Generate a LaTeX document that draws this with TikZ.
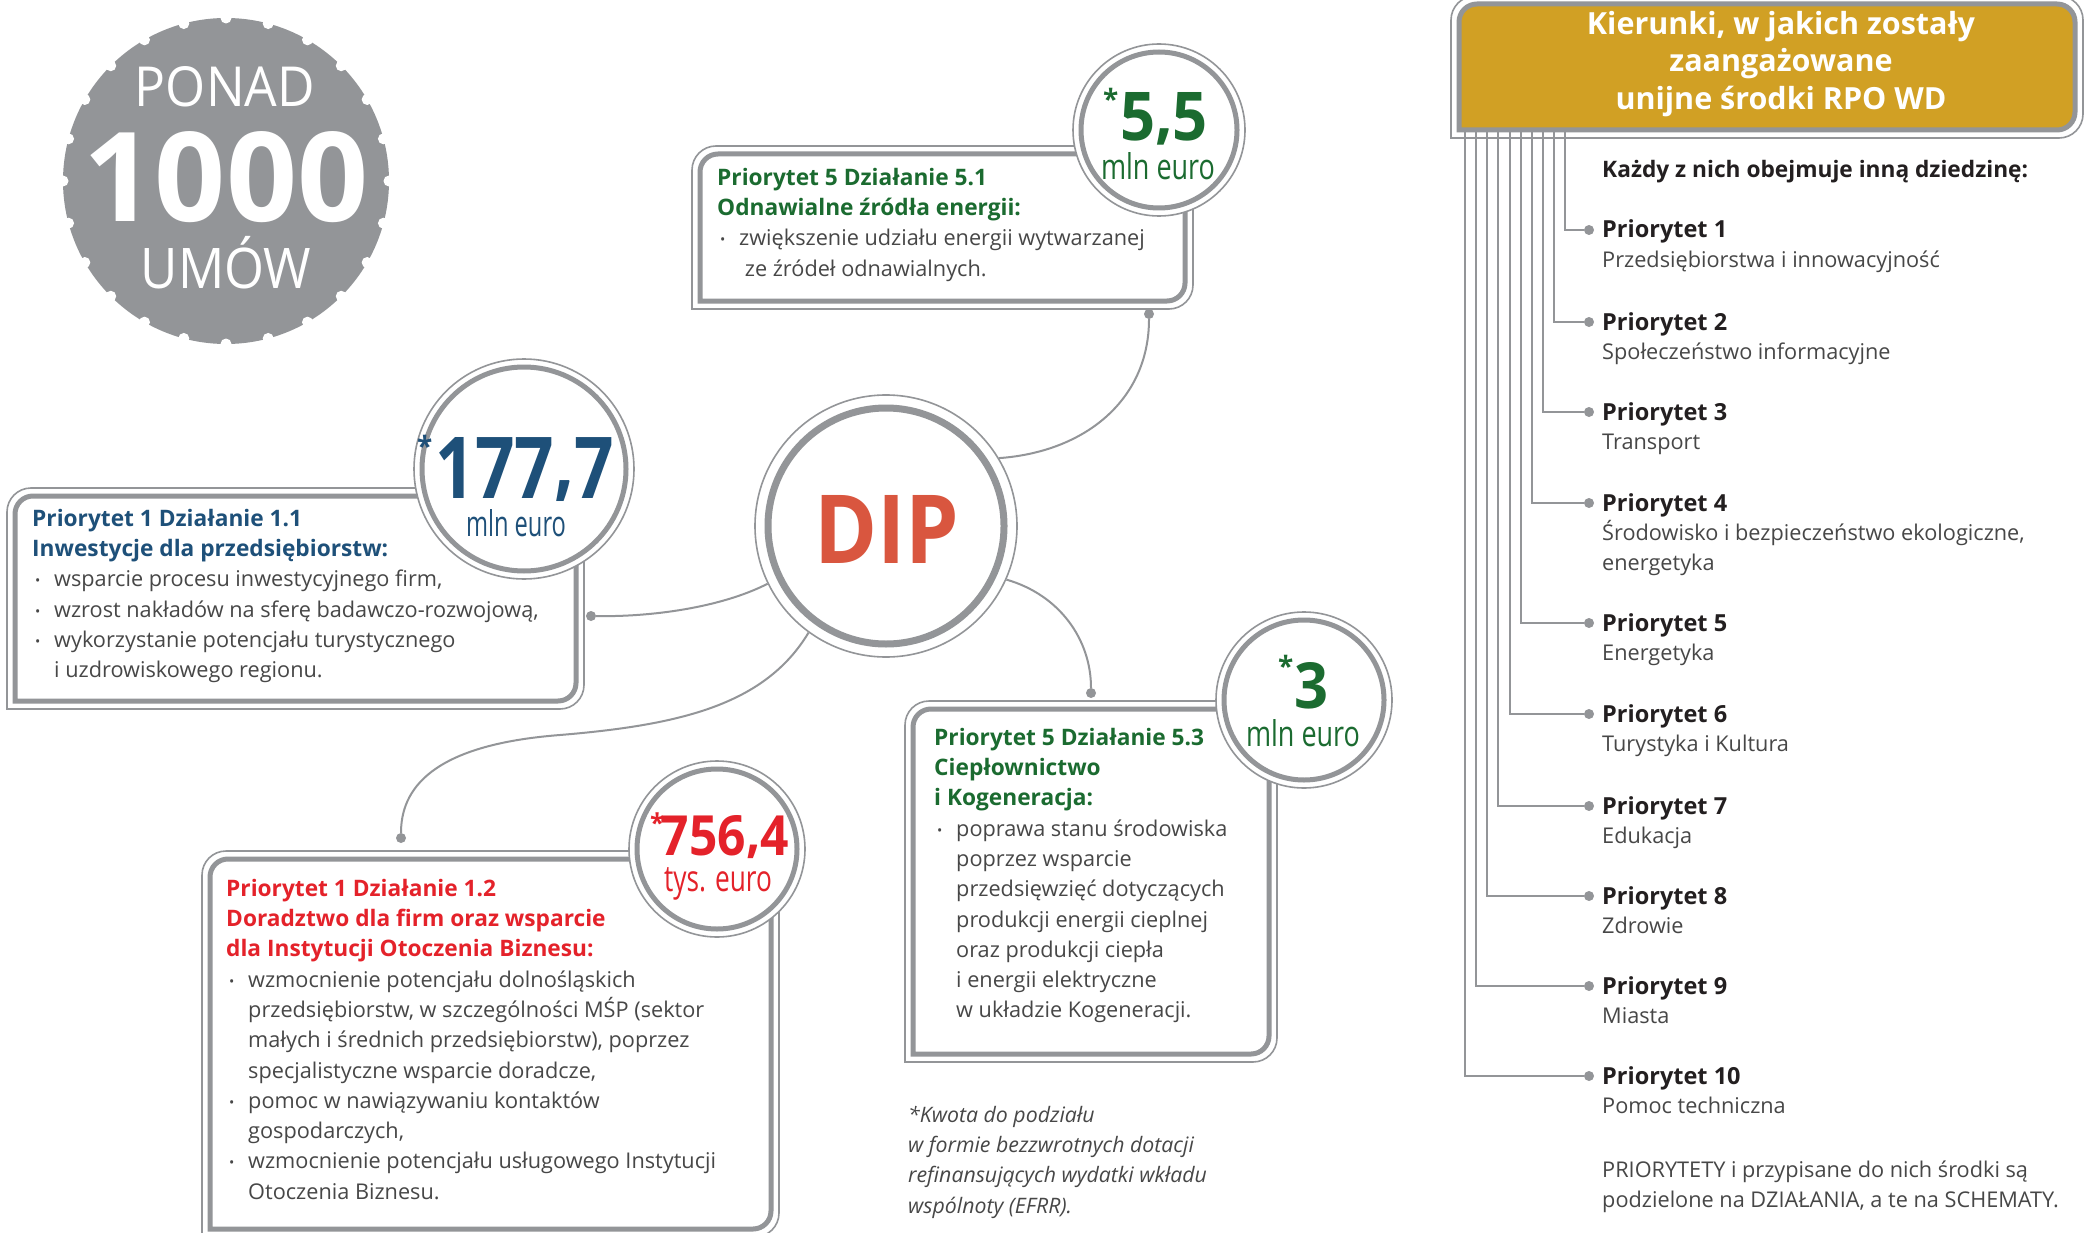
\documentclass[tikz,border=0pt]{standalone}
\usepackage{fontspec}
\setmainfont{Open Sans}
\usepackage{graphicx}
\definecolor{lgray}{HTML}{939598}
\definecolor{pgreen}{HTML}{1B6B30}
\definecolor{pblue}{HTML}{1E5079}
\definecolor{pred}{HTML}{E4222A}
\definecolor{dipred}{HTML}{D9563F}
\definecolor{gold}{HTML}{D1A024}
\definecolor{txt}{HTML}{474747}
\definecolor{blk}{HTML}{231F20}
\newcommand\hdf{\fontsize{22.7}{30.3}\selectfont\bfseries}
\newcommand\pdf{\fontsize{23.5}{30.3}\selectfont\bfseries}
\newcommand\bdf{\fontsize{21.7}{30.3}\selectfont}
\newcommand\bul{\hspace*{3pt}\makebox[19pt][l]{\raisebox{1pt}{\fontsize{14}{14}\selectfont\textbullet}}}
\newcommand\ind{\hspace*{22pt}}
\newcommand\fl{\rule{0pt}{20pt}}
\newcommand\nodepth[1]{\raisebox{0pt}[\height][0pt]{#1}}
\newcommand\cm[1]{\raisebox{#1}{,}}
\newcommand\dframe[5][]{%
  \draw[lgray,line width=1.6pt] (#2,#5) -- (#2,#3+24) arc[start angle=180,end angle=270,radius=24] -- (#4-24,#3) arc[start angle=270,end angle=360,radius=24] -- (#4,#5-24) arc[start angle=0,end angle=90,radius=24] -- cycle;
  \draw[lgray,line width=5pt,#1] (#2+8,#5-8) -- (#2+8,#3+26) arc[start angle=180,end angle=270,radius=18] -- (#4-26,#3+8) arc[start angle=270,end angle=360,radius=18] -- (#4-8,#5-26) arc[start angle=0,end angle=90,radius=18] -- cycle;
}
\begin{document}
\begin{tikzpicture}[x=1pt,y=-1pt,
  conn/.style={lgray,line width=2pt},
  vline/.style={lgray,line width=2pt},
  ring/.style={circle,draw=lgray,line width=1.6pt,fill=white,inner sep=0},
  boxtxt/.style={anchor=north west,align=left,inner sep=0,font=\bdf,text=txt},
  dotc/.style={circle,fill=lgray,inner sep=0,minimum size=10pt},
  num/.style={anchor=base,inner sep=0},
]
\useasboundingbox[fill=white] (0,0) rectangle (2087,1233);

% stamp
\node[circle,fill=lgray,minimum size=326pt,inner sep=0] (stamp) at (226,181) {};
\foreach \a in {0,15,...,345} \fill[white,shift={(226,181)}] (\a:163) circle[radius=5.5];
\node[num,text=white] (ponad) at (225,107) {\resizebox{180pt}{40pt}{PONAD}};
\node[num,text=white] (n1000) at (226,222) {\resizebox{284pt}{90pt}{\bfseries 1000}};
\node[num,text=white] (umow) at (226,288) {\raisebox{0pt}[40pt][0pt]{\fontsize{56}{56}\selectfont\scalebox{0.916}[1]{UMÓW}}};

% frames
\dframe{692}{146}{1193}{309}
\dframe{7}{488}{584}{709}
\dframe{202}{851}{779}{1237}
\dframe{905}{701}{1277}{1062}
\dframe[fill=gold]{1451}{-4}{2083}{138}

% value circles
\node[ring,minimum size=172pt] (c55) at (1159,130) {};
\draw[lgray,line width=5pt] (c55.center) circle[radius=78];
\node[ring,minimum size=220pt] (c177) at (524,469) {};
\draw[lgray,line width=5pt] (c177.center) circle[radius=102];
\node[ring,minimum size=176pt] (c756) at (717,849) {};
\draw[lgray,line width=5pt] (c756.center) circle[radius=80];
\node[ring,minimum size=176pt] (c3) at (1304,700) {};
\draw[lgray,line width=5pt] (c3.center) circle[radius=80];

% DIP
\node[ring,minimum size=262pt] (dip) at (886,526) {};
\draw[lgray,line width=7pt] (dip.center) circle[radius=118];
\node[num,text=dipred] (diptxt) at (887,563) {\resizebox{145pt}{68pt}{\bfseries DIP}};

% dots and connectors
\node[dotc] (d51) at (1149,314) {};
\node[dotc] (d11) at (591,616) {};
\node[dotc] (d12) at (401,838) {};
\node[dotc] (d53) at (1091,693) {};
\draw[conn] (dip.31) .. controls (1085,452) and (1149,400) .. (d51);
\draw[conn] (dip.206) .. controls (720,608) and (650,617) .. (d11);
\draw[conn] (dip.234) .. controls (765,705) and (680,725) .. (560,735) .. controls (430,745) and (401,790) .. (d12);
\draw[conn] (dip.336) .. controls (1060,595) and (1091,640) .. (d53);

% circle values
\node[num,text=pgreen] (v55) at (1164,141) {\nodepth{\resizebox{88pt}{48pt}{\bfseries 5\cm{0.6pt}5}}};
\node[anchor=north west,inner sep=0,text=pgreen] (a55) at (1103,88) {\fontsize{28}{28}\selectfont\bfseries *};
\node[num,text=pgreen] (u55) at (1158,180) {\nodepth{\resizebox{114pt}{27pt}{mln euro}}};

\node[num,text=pblue] (v177) at (525,498) {\nodepth{\resizebox{178pt}{61pt}{\bfseries 177\cm{0.85pt}7}}};
\node[anchor=north west,inner sep=0,text=pblue] (a177) at (417,435) {\fontsize{28}{28}\selectfont\bfseries *};
\node[num,text=pblue] (u177) at (516,536) {\nodepth{\resizebox{100pt}{27pt}{mln euro}}};

\node[num,text=pred] (v756) at (725,855) {\nodepth{\resizebox{128pt}{40pt}{\bfseries 756\cm{0.7pt}4}}};
\node[anchor=north west,inner sep=0,text=pred] (a756) at (650,813) {\fontsize{26}{26}\selectfont\bfseries *};
\node[num,text=pred] (u756) at (718,891) {\nodepth{\resizebox{108pt}{24pt}{tys. euro}}};

\node[num,text=pgreen] (v3) at (1311,708) {\resizebox{34pt}{46pt}{\bfseries 3}};
\node[anchor=north west,inner sep=0,text=pgreen] (a3) at (1278,655) {\fontsize{28}{28}\selectfont\bfseries *};
\node[num,text=pgreen] (u3) at (1303,746) {\nodepth{\resizebox{114pt}{27pt}{mln euro}}};

% box texts
\node[boxtxt] (t51) at (717,165) {\fl{\hdf\color{pgreen}Priorytet 5 Działanie 5.1}\\{\hdf\color{pgreen}Odnawialne źródła energii:}\\\bul zwiększenie udziału energii wytwarzanej\\\ind\ ze źródeł odnawialnych.};

\node[boxtxt] (t11) at (32,506) {\fl{\hdf\color{pblue}Priorytet 1 Działanie 1.1}\\{\hdf\color{pblue}Inwestycje dla przedsiębiorstw:}\\\bul wsparcie procesu inwestycyjnego firm,\\\bul wzrost nakładów na sferę badawczo-rozwojową,\\\bul wykorzystanie potencjału turystycznego\\\ind i uzdrowiskowego regionu.};

\node[boxtxt] (t12) at (226,876) {\fl{\hdf\color{pred}Priorytet 1 Działanie 1.2}\\{\hdf\color{pred}Doradztwo dla firm oraz wsparcie}\\{\hdf\color{pred}dla Instytucji Otoczenia Biznesu:}\\\bul wzmocnienie potencjału dolnośląskich\\\ind przedsiębiorstw, w szczególności MŚP (sektor\\\ind małych i średnich przedsiębiorstw), poprzez\\\ind specjalistyczne wsparcie doradcze,\\\bul pomoc w nawiązywaniu kontaktów\\\ind gospodarczych,\\\bul wzmocnienie potencjału usługowego Instytucji\\\ind Otoczenia Biznesu.};

\node[boxtxt] (t53) at (934,725) {\fl{\hdf\color{pgreen}Priorytet 5 Działanie 5.3}\\{\hdf\color{pgreen}Ciepłownictwo}\\{\hdf\color{pgreen}i Kogeneracja:}\\\bul poprawa stanu środowiska\\\ind poprzez wsparcie\\\ind przedsięwzięć dotyczących\\\ind produkcji energii cieplnej\\\ind oraz produkcji ciepła\\\ind i energii elektryczne\\\ind w układzie Kogeneracji.};

\node[boxtxt,font=\fontsize{21.3}{30.3}\selectfont\itshape] (foot) at (908,1102) {\fl*Kwota do podziału\\w formie bezzwrotnych dotacji\\refinansujących wydatki wkładu\\wspólnoty (EFRR).};

% header
\node[anchor=north,align=center,inner sep=0,text=white,font=\fontsize{30.5}{37.5}\selectfont\bfseries] (head) at (1781,9) {\rule{0pt}{25pt}Kierunki, w jakich zostały\\zaangażowane\\unijne środki RPO WD};

\node[anchor=base west,inner sep=0,font=\hdf,text=blk] (kazdy) at (1602,178) {Każdy z nich obejmuje inną dziedzinę:};

\foreach \k/\y/\s in {1/230/{Przedsiębiorstwa i innowacyjność},2/322/{Społeczeństwo informacyjne},3/412/{Transport},4/503/{Środowisko i bezpieczeństwo ekologiczne,\\energetyka},5/623/{Energetyka},6/714/{Turystyka i Kultura},7/806/{Edukacja},8/896/{Zdrowie},9/986/{Miasta},10/1076/{Pomoc techniczna}}{
  \pgfmathsetmacro\xx{1565-(\k-1)*11.1}
  \coordinate (h\k) at (\xx,132);
  \node[dotc] (q\k) at (1589,\y) {};
  \draw[vline] (h\k) |- (q\k);
  \node[anchor=base west,inner sep=0,font=\pdf,text=blk] (p\k) at (1602,\y+8) {Priorytet \k};
  \node[boxtxt] (s\k) at (1602,\y+17) {\fl\s};
}

\node[boxtxt] (note) at (1602,1157) {\fl PRIORYTETY i przypisane do nich środki są\\podzielone na DZIAŁANIA, a te na SCHEMATY.};
\end{tikzpicture}
\end{document}
